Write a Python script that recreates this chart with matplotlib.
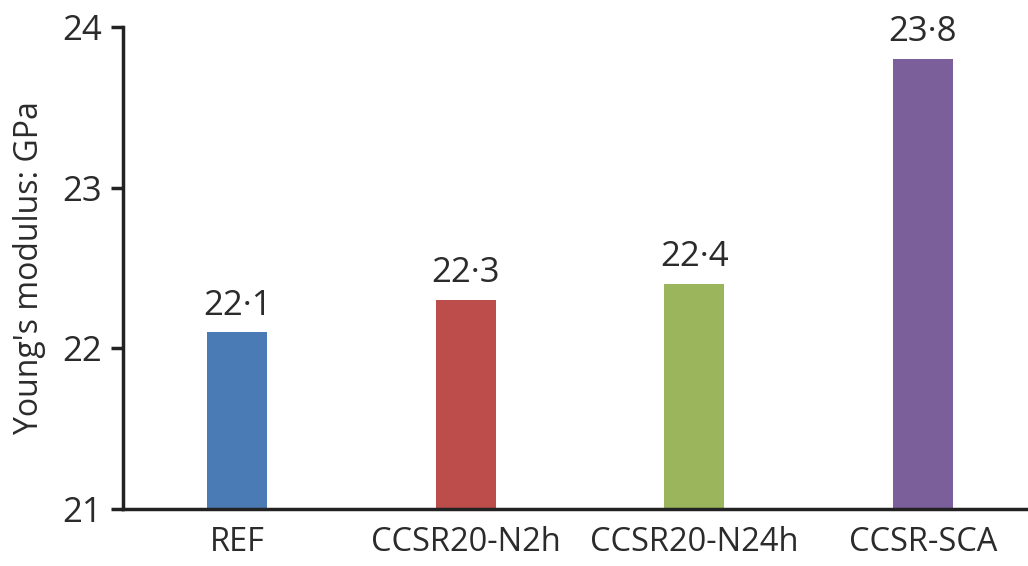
import matplotlib
matplotlib.use("Agg")
import matplotlib.pyplot as plt

categories = ["REF", "CCSR20-N2h", "CCSR20-N24h", "CCSR-SCA"]
values = [22.1, 22.3, 22.4, 23.8]
value_labels = ["22·1", "22·3", "22·4", "23·8"]
colors = ["#4A7BB4", "#BC4D4A", "#9BB55C", "#7B5F9A"]
yticks = [21, 22, 23, 24]

plt.rcParams['font.family'] = ['Open Sans', 'DejaVu Sans']
txt = "#2b2b2b"

fig = plt.figure(figsize=(10.28, 5.66), dpi=100)
ax = fig.add_axes([123/1028, 1-509/566, (1028-123)/1028, (509-27)/566])
x = list(range(len(categories)))
ax.bar(x, [v - 21 for v in values], bottom=21, width=0.263, color=colors, zorder=2)
for xi, v, lab in zip(x, values, value_labels):
    ax.annotate(lab, (xi, v), xytext=(0, 7), textcoords="offset points",
                ha="center", va="bottom", fontsize=25, color=txt)
ax.set_xlim(-0.5, 3.46)
ax.set_ylim(21, 24)
ax.set_yticks(yticks)
ax.set_yticklabels([str(t) for t in yticks], fontsize=25, color=txt)
ax.set_xticks(x)
ax.set_xticklabels(categories, fontsize=23.5, color=txt)
ax.tick_params(axis='x', length=0, pad=12)
ax.tick_params(axis='y', length=9, width=2.5, direction='out', pad=6, color='#222222')
for s in ['top', 'right']:
    ax.spines[s].set_visible(False)
for s in ['left', 'bottom']:
    ax.spines[s].set_linewidth(2.5)
    ax.spines[s].set_color('#222222')
ax.set_ylabel("Young's modulus: GPa", fontsize=23, color=txt, labelpad=12)
fig.savefig("out.png", dpi=100)
